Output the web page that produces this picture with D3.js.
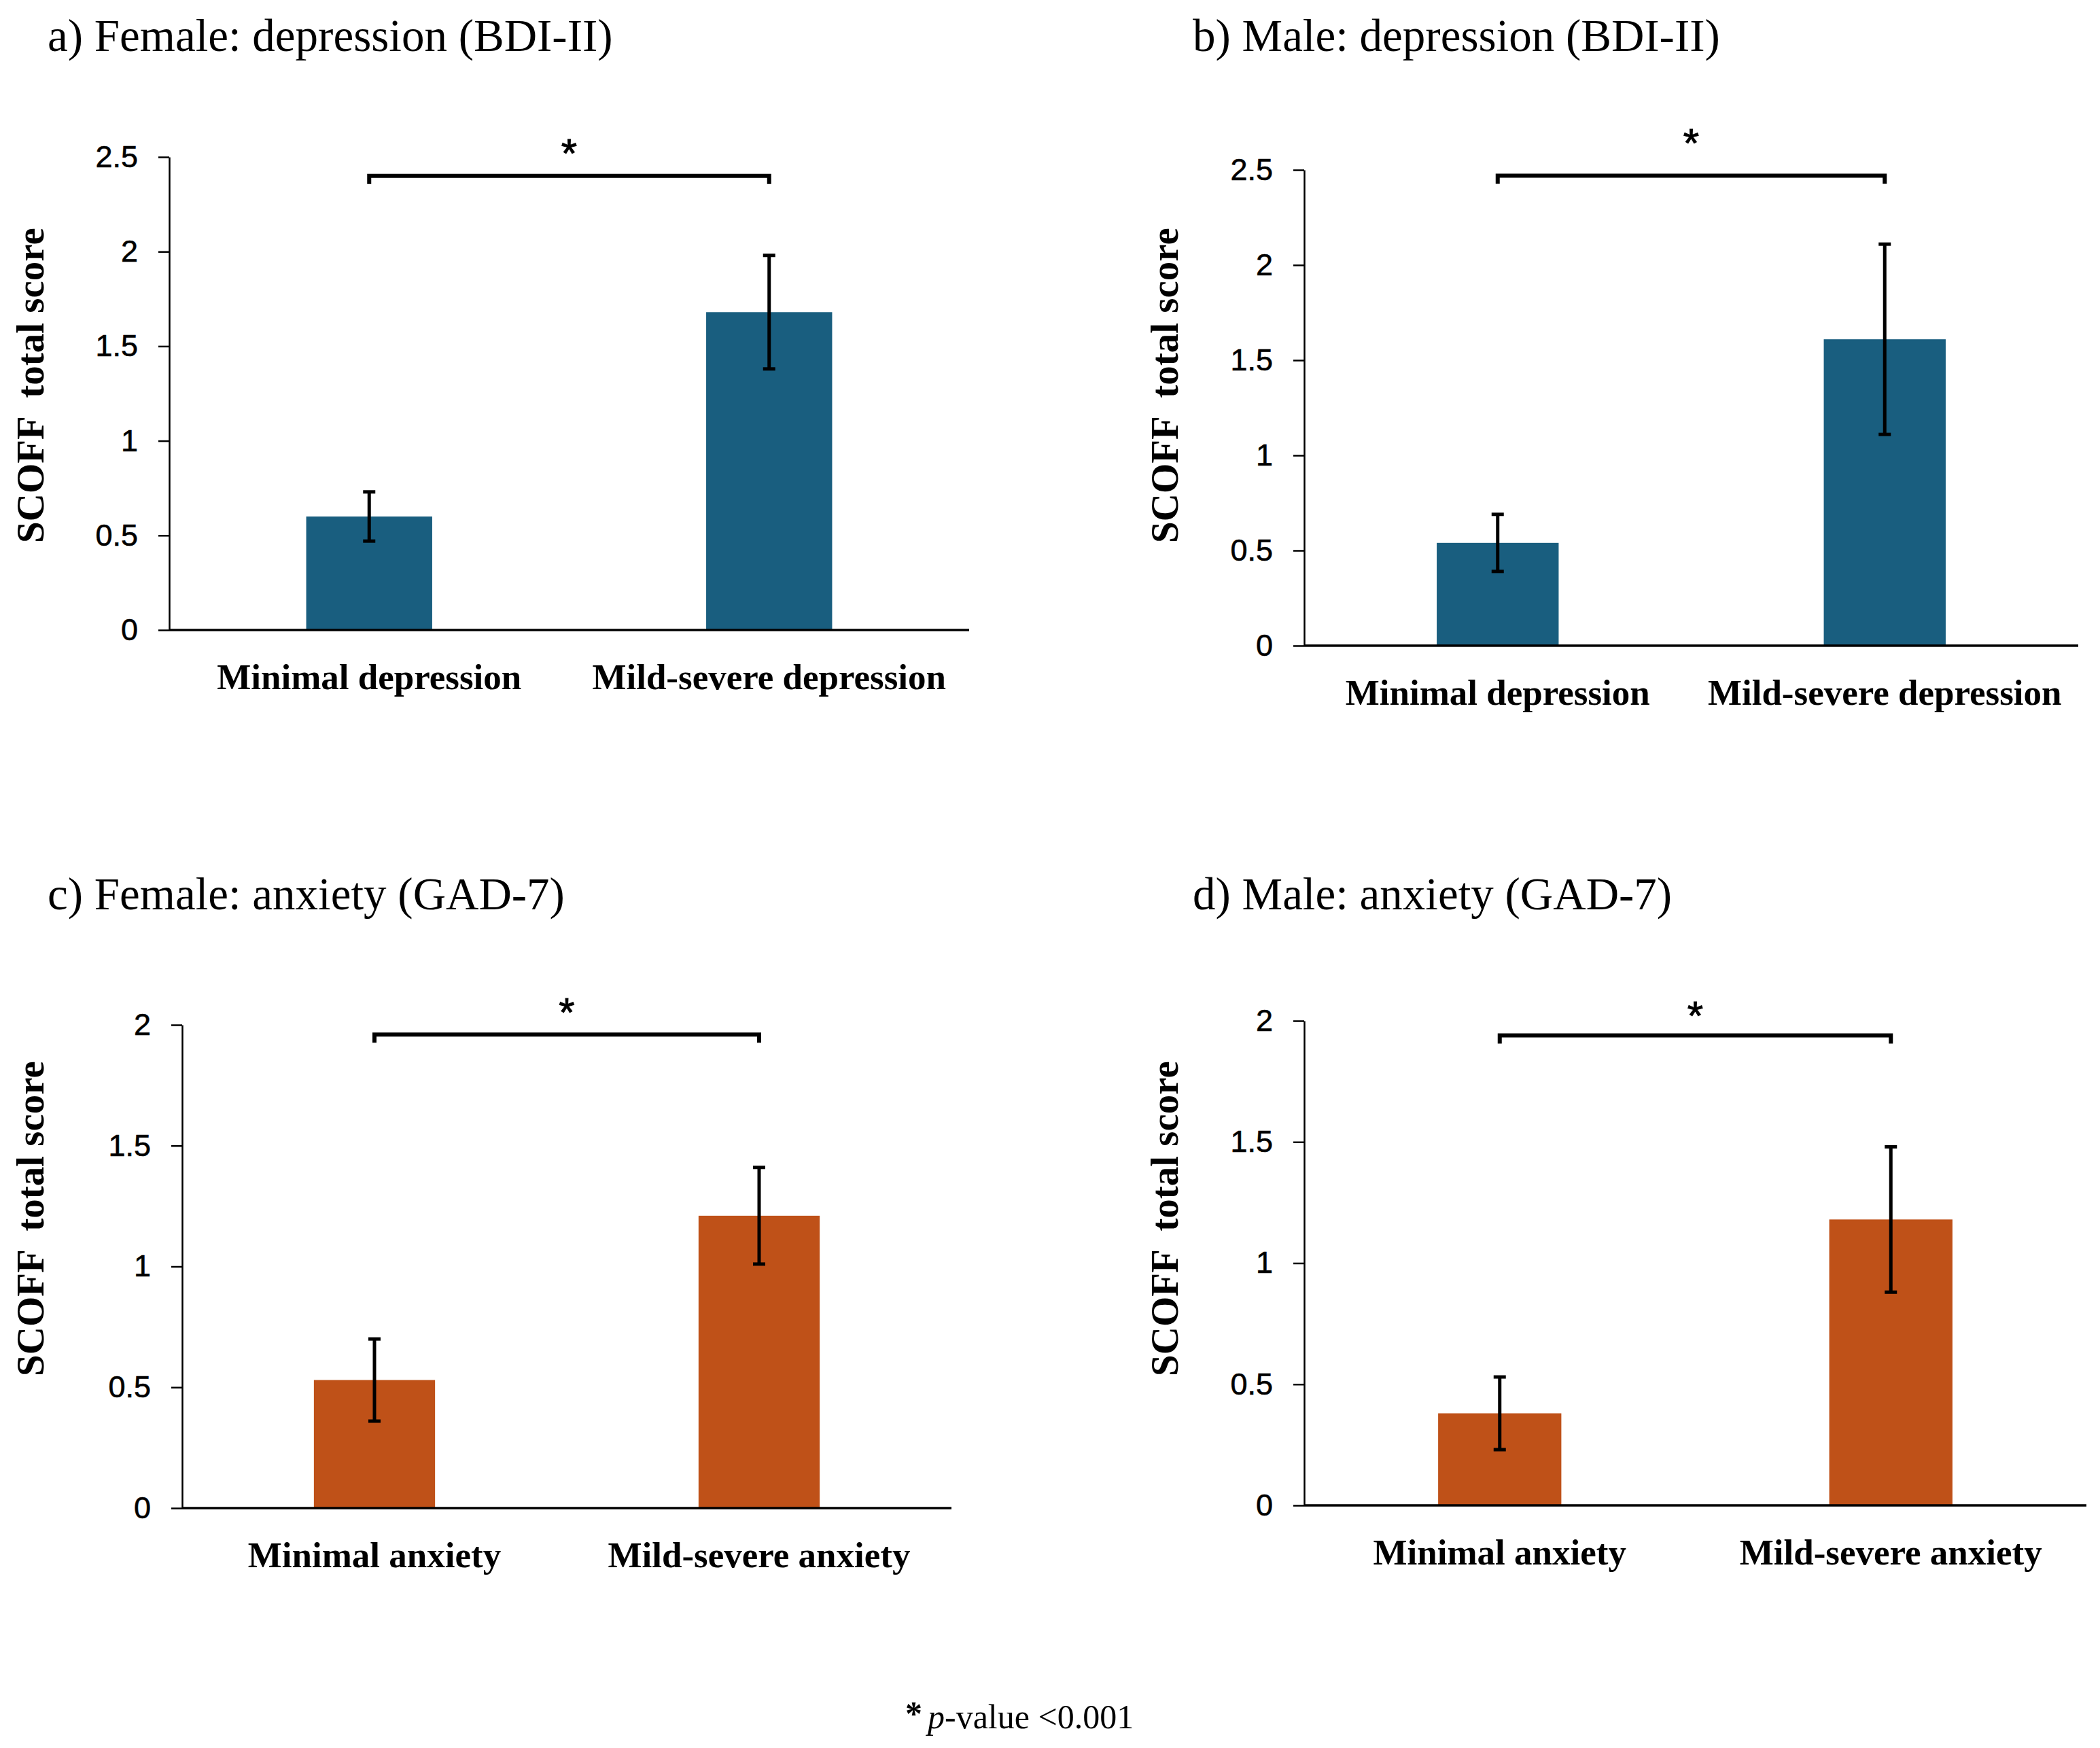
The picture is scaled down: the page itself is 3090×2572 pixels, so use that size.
<!DOCTYPE html>
<html>
<head>
<meta charset="utf-8">
<script src="https://cdn.jsdelivr.net/npm/d3@7"></script>
<style>
  html, body { margin: 0; padding: 0; background: #ffffff; }
  svg { display: block; }
</style>
</head>
<body>
<script>
// ---------------- DATA ----------------
const panelTitles = [
  "a) Female: depression (BDI-II)",
  "b) Male: depression (BDI-II)",
  "c) Female: anxiety (GAD-7)",
  "d) Male: anxiety (GAD-7)"
];
const depressionCategories = ["Minimal depression", "Mild-severe depression"];
const anxietyCategories = ["Minimal anxiety", "Mild-severe anxiety"];

const femaleDepressionMeans = [0.60, 1.68];
const femaleDepressionErrors = [0.13, 0.30];
const maleDepressionMeans = [0.54, 1.61];
const maleDepressionErrors = [0.15, 0.50];
const femaleAnxietyMeans = [0.53, 1.21];
const femaleAnxietyErrors = [0.17, 0.20];
const maleAnxietyMeans = [0.38, 1.18];
const maleAnxietyErrors = [0.15, 0.30];

const depressionTicks = [0, 0.5, 1, 1.5, 2, 2.5];
const anxietyTicks = [0, 0.5, 1, 1.5, 2];

const bracketLevels = [2.40, 2.47, 1.96, 1.94];
const starLevels = [2.57, 2.69, 2.09, 2.06];

const yAxisTitle = "SCOFF  total score";
const significanceMark = "*";
const footnoteItalic = "p";
const footnoteRest = "-value <0.001";

// ---------------- PANEL SETUP ----------------
const panels = [
  { title: panelTitles[0], cats: depressionCategories, means: femaleDepressionMeans, errs: femaleDepressionErrors, ticks: depressionTicks, color: "#195e7f", bracket: bracketLevels[0], star: starLevels[0] },
  { title: panelTitles[1], cats: depressionCategories, means: maleDepressionMeans, errs: maleDepressionErrors, ticks: depressionTicks, color: "#195e7f", bracket: bracketLevels[1], star: starLevels[1] },
  { title: panelTitles[2], cats: anxietyCategories, means: femaleAnxietyMeans, errs: femaleAnxietyErrors, ticks: anxietyTicks, color: "#bf5118", bracket: bracketLevels[2], star: starLevels[2] },
  { title: panelTitles[3], cats: anxietyCategories, means: maleAnxietyMeans, errs: maleAnxietyErrors, ticks: anxietyTicks, color: "#bf5118", bracket: bracketLevels[3], star: starLevels[3] }
];

// Layout (pixel geometry)
const layout = [
  { x0: 249,  x1: 1426, y0: 927,  yTop: 231,  titleX: 70,   titleY: 75,   ylabX: 64,   ylabY: 567 },
  { x0: 1919, x1: 3058, y0: 950,  yTop: 250,  titleX: 1755, titleY: 75,   ylabX: 1733, ylabY: 567 },
  { x0: 268,  x1: 1400, y0: 2219, yTop: 1508, titleX: 70,   titleY: 1338, ylabX: 64,   ylabY: 1793 },
  { x0: 1919, x1: 3070, y0: 2215, yTop: 1502, titleX: 1755, titleY: 1338, ylabX: 1733, ylabY: 1793 }
];

const W = 3090, H = 2572;
const serif = "'Liberation Serif', 'Times New Roman', serif";
const sans = "'Liberation Sans', Arial, sans-serif";

const svg = d3.select("body").append("svg")
  .attr("width", W).attr("height", H)
  .attr("viewBox", `0 0 ${W} ${H}`);

svg.append("rect").attr("width", W).attr("height", H).attr("fill", "#ffffff");

panels.forEach((p, i) => {
  const L = layout[i];
  const g = svg.append("g");

  const y = d3.scaleLinear()
    .domain([0, d3.max(p.ticks)])
    .range([L.y0, L.yTop]);
  const x = d3.scalePoint()
    .domain(p.cats)
    .range([L.x0, L.x1])
    .padding(0.5);
  const bw = x.step() * 0.315;

  // Title
  g.append("text")
    .attr("x", L.titleX).attr("y", L.titleY)
    .attr("font-family", serif).attr("font-size", 67)
    .attr("fill", "#000")
    .text(p.title);

  // Y-axis title
  g.append("text")
    .attr("transform", `translate(${L.ylabX},${L.ylabY}) rotate(-90)`)
    .attr("text-anchor", "middle")
    .attr("font-family", serif).attr("font-size", 57).attr("font-weight", "bold")
    .style("white-space", "pre")
    .attr("fill", "#000")
    .text(yAxisTitle);

  // Bars
  g.selectAll("rect.bar").data(p.cats).join("rect")
    .attr("class", "bar")
    .attr("x", d => x(d) - bw / 2)
    .attr("width", bw)
    .attr("y", (d, j) => y(p.means[j]))
    .attr("height", (d, j) => y(0) - y(p.means[j]))
    .attr("fill", p.color);

  // Y axis
  const yAxis = d3.axisLeft(y)
    .tickValues(p.ticks)
    .tickSize(16)
    .tickSizeOuter(0)
    .tickPadding(30)
    .tickFormat(d3.format(""));
  const ag = g.append("g")
    .attr("transform", `translate(${L.x0},0)`)
    .call(yAxis);
  ag.select(".domain").attr("stroke", "#000").attr("stroke-width", 2.5);
  ag.selectAll(".tick line").attr("stroke", "#000").attr("stroke-width", 2.5);
  ag.selectAll(".tick text")
    .attr("font-family", sans).attr("font-size", 45).attr("fill", "#000")
    .attr("stroke", "#000").attr("stroke-width", 0.6);

  // X axis baseline
  g.append("line")
    .attr("x1", L.x0).attr("x2", L.x1)
    .attr("y1", y(0)).attr("y2", y(0))
    .attr("stroke", "#000").attr("stroke-width", 3.5);

  // Category labels
  g.selectAll("text.cat").data(p.cats).join("text")
    .attr("class", "cat")
    .attr("x", d => x(d))
    .attr("y", y(0) + 87)
    .attr("text-anchor", "middle")
    .attr("font-family", serif).attr("font-size", 53).attr("font-weight", "bold")
    .attr("fill", "#000")
    .text(d => d);

  // Error bars
  const capW = 18;
  p.cats.forEach((c, j) => {
    const cx = x(c);
    const top = y(p.means[j] + p.errs[j]);
    const bot = y(p.means[j] - p.errs[j]);
    const eg = g.append("g").attr("stroke", "#000").attr("stroke-width", 5);
    eg.append("line").attr("x1", cx).attr("x2", cx).attr("y1", top).attr("y2", bot);
    eg.append("line").attr("x1", cx - capW / 2).attr("x2", cx + capW / 2).attr("y1", top).attr("y2", top);
    eg.append("line").attr("x1", cx - capW / 2).attr("x2", cx + capW / 2).attr("y1", bot).attr("y2", bot);
  });

  // Significance bracket
  const xa = x(p.cats[0]), xb = x(p.cats[1]);
  const yb = y(p.bracket);
  g.append("path")
    .attr("d", d3.line()([[xa, yb + 12], [xa, yb], [xb, yb], [xb, yb + 12]]))
    .attr("fill", "none").attr("stroke", "#000").attr("stroke-width", 6);
  g.append("text")
    .attr("x", (xa + xb) / 2)
    .attr("y", y(p.star) + 34)
    .attr("text-anchor", "middle")
    .attr("font-family", sans).attr("font-size", 60)
    .attr("stroke", "#000").attr("stroke-width", 1)
    .attr("fill", "#000")
    .text(significanceMark);
});

// Footnote
const fn = svg.append("text")
  .attr("x", 1332).attr("y", 2543)
  .attr("font-family", serif).attr("font-size", 50)
  .attr("fill", "#000");
fn.append("tspan").attr("font-weight", "bold").attr("dy", -5).text(significanceMark);
fn.append("tspan").attr("dx", 8).attr("dy", 5).attr("font-style", "italic").text(footnoteItalic);
fn.append("tspan").text(footnoteRest);
</script>
</body>
</html>
